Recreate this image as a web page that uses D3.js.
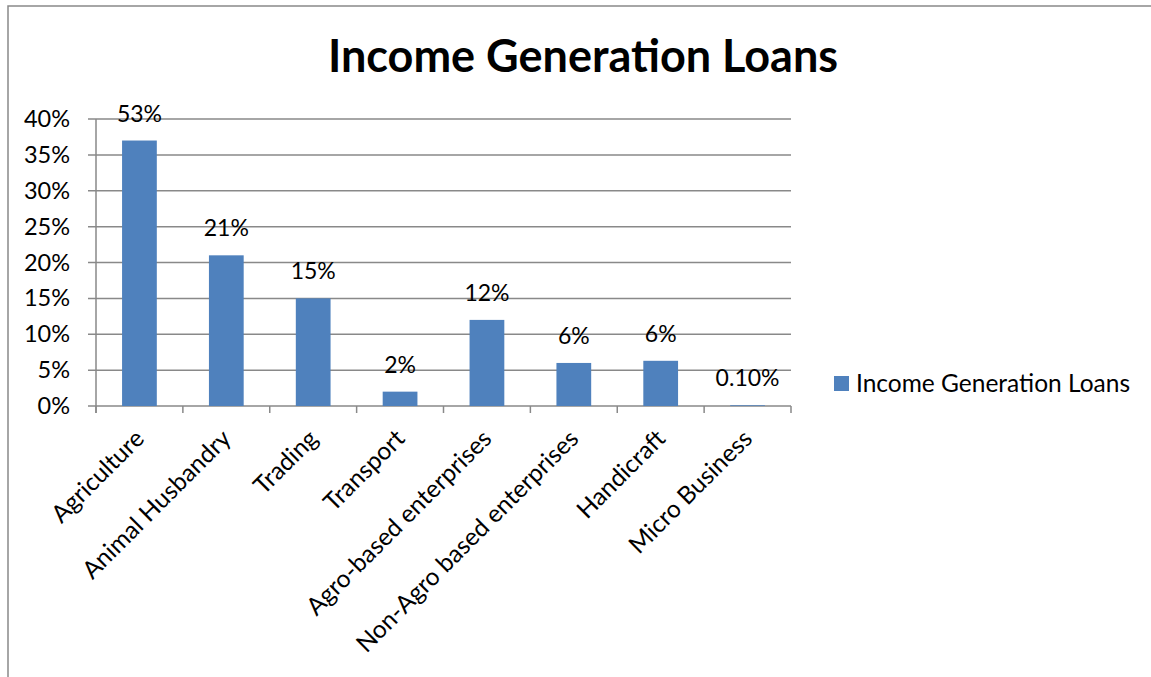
<!DOCTYPE html>
<html lang="en">
<head>
<meta charset="UTF-8">
<title>Income Generation Loans</title>
<style>
  body, html { margin: 0; padding: 0; background: #fff; }
  svg { display: block; font-family: Lato, "Open Sans", sans-serif; }
</style>
</head>
<body>
<svg id="chart" width="1151" height="677"></svg>
<script src="https://d3js.org/d3.v7.min.js"></script>
<script>
// -------- DATA ------------
const categories = ["Agriculture", "Animal Husbandry", "Trading", "Transport",
  "Agro-based enterprises", "Non-Agro based enterprises", "Handicraft", "Micro Business"]
// bar heights as drawn (fraction)
const values = [0.37, 0.21, 0.15, 0.02, 0.12, 0.06, 0.063, 0.001]
// data labels as printed on the chart
const labels = ["53%", "21%", "15%", "2%", "12%", "6%", "6%", "0.10%"]
const yTicks = [0, 0.05, 0.10, 0.15, 0.20, 0.25, 0.30, 0.35, 0.40]
const seriesName = "Income Generation Loans"
const title = "Income Generation Loans"

// -------- LAYOUT ------------
const svg = d3.select("#chart")
const plot = {left: 96, right: 791, top: 119, bottom: 406}
const gray = "#898989"
const blue = "#4F81BD"

// outer frame (top + left edge)
svg.append("path")
  .attr("d", "M8,677 V6 H1151")
  .attr("fill", "none")
  .attr("stroke", gray)
  .attr("stroke-width", 1.5)

// -------- SCALES ------------
const x = d3.scaleBand()
  .domain(categories)
  .range([plot.left, plot.right])
  .paddingInner(0.6)
  .paddingOuter(0.3)

const y = d3.scaleLinear()
  .domain([0, 0.4])
  .range([plot.bottom, plot.top])

// -------- GRID + AXES ------------
svg.append("g")
  .selectAll("line")
  .data(yTicks)
  .join("line")
  .attr("x1", plot.left - 8)
  .attr("x2", plot.right)
  .attr("y1", d => y(d))
  .attr("y2", d => y(d))
  .attr("stroke", gray)
  .attr("stroke-width", 1.5)

const yAxis = d3.axisLeft(y)
  .tickValues(yTicks)
  .tickFormat(d3.format(".0%"))
  .tickSize(0)
  .tickPadding(26)

svg.append("g")
  .attr("transform", `translate(${plot.left},0)`)
  .call(yAxis)
  .call(g => g.select(".domain").remove())
  .selectAll("text")
  .attr("font-family", "Lato, sans-serif")
  .attr("font-size", 23.5)
  .attr("fill", "#000")

// vertical axis line
svg.append("line")
  .attr("x1", plot.left).attr("x2", plot.left)
  .attr("y1", plot.top).attr("y2", plot.bottom + 7)
  .attr("stroke", gray).attr("stroke-width", 1.5)

// category tick marks at band edges
const step = x.step()
const edges = d3.range(categories.length + 1).map(i => plot.left + i * step)
svg.append("g")
  .selectAll("line")
  .data(edges)
  .join("line")
  .attr("x1", d => d).attr("x2", d => d)
  .attr("y1", plot.bottom).attr("y2", plot.bottom + 7)
  .attr("stroke", gray).attr("stroke-width", 1.5)

// -------- BARS ------------
svg.append("g")
  .selectAll("rect")
  .data(values)
  .join("rect")
  .attr("x", (d, i) => x(categories[i]))
  .attr("y", d => y(d))
  .attr("width", x.bandwidth())
  .attr("height", d => y(0) - y(d))
  .attr("fill", blue)

// data labels
svg.append("g")
  .selectAll("text")
  .data(values)
  .join("text")
  .attr("x", (d, i) => x(categories[i]) + x.bandwidth() / 2)
  .attr("y", d => y(d) - 19)
  .attr("text-anchor", "middle")
  .attr("font-size", 23)
  .attr("fill", "#000")
  .text((d, i) => labels[i])

// category labels, rotated
svg.append("g")
  .selectAll("text")
  .data(categories)
  .join("text")
  .attr("transform", d => `translate(${x(d) + x.bandwidth() / 2 - 6},${plot.bottom + 22}) rotate(-45)`)
  .attr("text-anchor", "end")
  .attr("dy", "0.7em")
  .attr("font-size", 24.5)
  .attr("fill", "#000")
  .text(d => d)

// -------- TITLE ------------
svg.append("text")
  .attr("x", 583)
  .attr("y", 72)
  .attr("text-anchor", "middle")
  .attr("font-size", 45)
  .attr("font-weight", "bold")
  .attr("fill", "#000")
  .text(title)

// -------- LEGEND ------------
const legend = svg.append("g").attr("transform", "translate(834,376)")
legend.append("rect")
  .attr("width", 15).attr("height", 15)
  .attr("fill", blue)
legend.append("text")
  .attr("x", 22)
  .attr("y", 7.5)
  .attr("dy", "0.35em")
  .attr("font-size", 24.5)
  .attr("fill", "#000")
  .text(seriesName)
</script>
</body>
</html>
